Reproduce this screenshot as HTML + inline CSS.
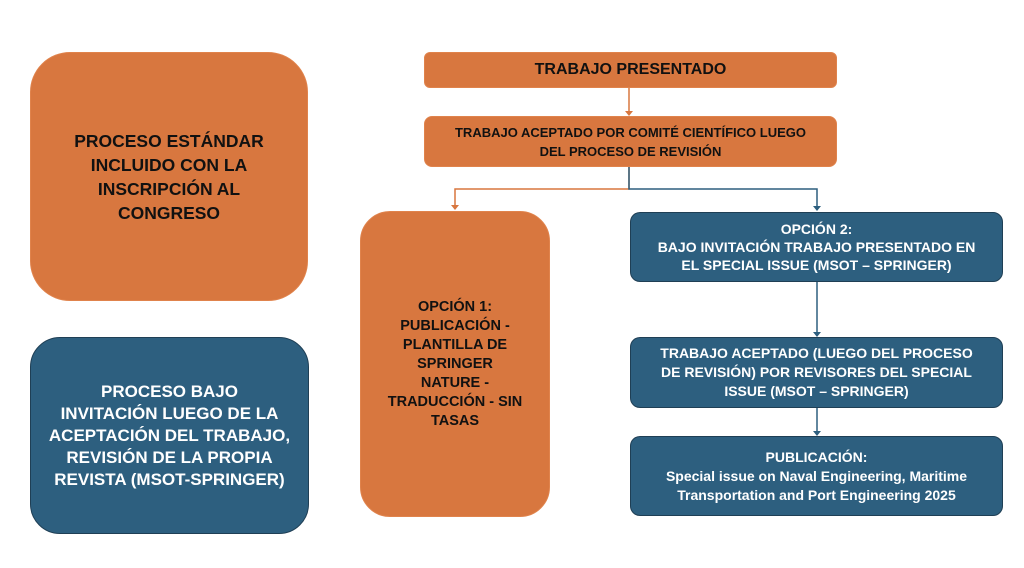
<!DOCTYPE html>
<html><head><meta charset="utf-8"><style>
body{margin:0;width:1024px;height:568px;background:#fff;position:relative;overflow:hidden;font-family:"Liberation Sans",sans-serif;font-weight:bold}
.b{position:absolute;box-sizing:border-box;display:flex;align-items:center;justify-content:center;text-align:center}
.o{background:#D8773F;color:#111;border:1px solid #e0834c}
.u{background:#2D5F7F;color:#fff;border:1.5px solid #1f3f55}
</style></head><body>
<div class="b o" style="left:30px;top:52px;width:278px;height:249px;border-radius:40px;font-size:17.5px;line-height:24px;padding:0 30px">PROCESO ESTÁNDAR<br>INCLUIDO CON LA<br>INSCRIPCIÓN AL<br>CONGRESO</div>
<div class="b u" style="left:30px;top:337px;width:279px;height:197px;border-radius:30px;font-size:17px;line-height:22px;padding:0 6px">PROCESO BAJO<br>INVITACIÓN LUEGO DE LA<br>ACEPTACIÓN DEL TRABAJO,<br>REVISIÓN DE LA PROPIA<br>REVISTA (MSOT-SPRINGER)</div>
<div class="b o" style="left:424px;top:52px;width:413px;height:36px;border-radius:6px;font-size:16px">TRABAJO PRESENTADO</div>
<div class="b o" style="left:424px;top:116px;width:413px;height:51px;border-radius:8px;font-size:13px;line-height:19px;padding:0 10px">TRABAJO ACEPTADO POR COMITÉ CIENTÍFICO LUEGO<br>DEL PROCESO DE REVISIÓN</div>
<div class="b o" style="left:360px;top:211px;width:190px;height:306px;border-radius:30px;font-size:14.5px;line-height:19px;padding:0 6px">OPCIÓN 1:<br>PUBLICACIÓN -<br>PLANTILLA DE<br>SPRINGER<br>NATURE -<br>TRADUCCIÓN - SIN<br>TASAS</div>
<div class="b u" style="left:630px;top:212px;width:373px;height:70px;border-radius:10px;font-size:14px;line-height:18px">OPCIÓN 2:<br>BAJO INVITACIÓN TRABAJO PRESENTADO EN<br>EL SPECIAL ISSUE (MSOT – SPRINGER)</div>
<div class="b u" style="left:630px;top:337px;width:373px;height:71px;border-radius:10px;font-size:14px;line-height:19px">TRABAJO ACEPTADO (LUEGO DEL PROCESO<br>DE REVISIÓN) POR REVISORES DEL SPECIAL<br>ISSUE (MSOT – SPRINGER)</div>
<div class="b u" style="left:630px;top:436px;width:373px;height:80px;border-radius:10px;font-size:14px;line-height:19px">PUBLICACIÓN:<br>Special issue on Naval Engineering, Maritime<br>Transportation and Port Engineering 2025</div>
<svg width="1024" height="568" style="position:absolute;left:0;top:0">
<g fill="none" stroke-width="1.5">
<path d="M629 88V112" stroke="#D8773F"/>
<path d="M629 167V189H455V206" stroke="#D8773F"/>
<path d="M629 167V189H817V207" stroke="#2D5F7F"/>
<path d="M817 282V333" stroke="#2D5F7F"/>
<path d="M817 408V432" stroke="#2D5F7F"/>
</g>
<path d="M625 111h8l-4 5z M451 205h8l-4 5z" fill="#D8773F"/>
<path d="M813 206h8l-4 5z M813 332h8l-4 5z M813 431h8l-4 5z" fill="#2D5F7F"/>
</svg>
</body></html>
